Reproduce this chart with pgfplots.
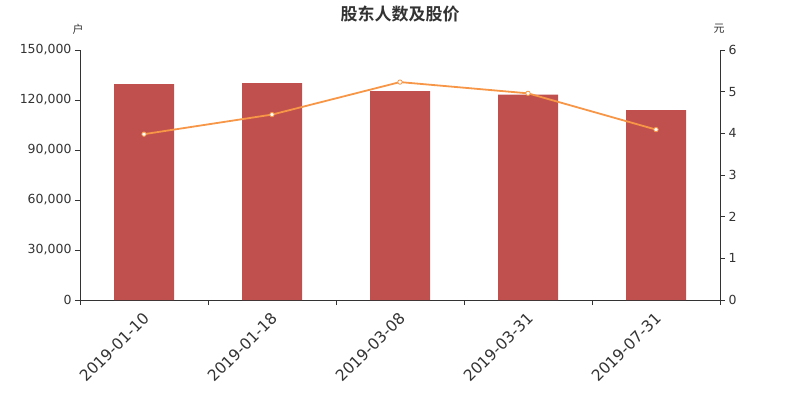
\documentclass[border=0pt]{standalone}
\usepackage{pgfplots}
\pgfplotsset{compat=1.18}
\usepackage{fontspec}
\setmainfont{DejaVu Sans}
\newfontfamily\cjk{Noto Sans CJK SC}
\newfontfamily\cjkb{Noto Sans CJK SC Bold}
\definecolor{txt}{HTML}{333333}
\definecolor{barc}{HTML}{C0504D}
\definecolor{linec}{HTML}{F79646}
\begin{document}
\begin{tikzpicture}[x=1pt,y=1pt]
\path[use as bounding box] (0,0) rectangle (800,400);
\begin{axis}[
  at={(144pt,100pt)}, anchor=origin,
  scale only axis, width=640pt, height=250pt,
  xmin=-0.5, xmax=4.5, ymin=0, ymax=150000,
  axis y line*=left, axis x line*=bottom,
  axis line style={txt, line width=0.8pt, -},
  xtick={0,1,2,3,4},
  xticklabels={2019-01-10,2019-01-18,2019-03-08,2019-03-31,2019-07-31},
  major x tick style={draw=none},
  minor xtick={-0.5,0.5,1.5,2.5,3.5,4.5},
  minor tick length=5pt,
  tick align=outside,
  major tick length=5pt,
  tick style={txt, line width=0.8pt},
  x tick label style={rotate=45, anchor=east, font=\fontsize{15.5}{15.5}\selectfont, text=txt, xshift=-2pt, yshift=-9pt},
  ytick={0,30000,60000,90000,120000,150000},
  y tick label style={font=\fontsize{12.5}{12.5}\selectfont, text=txt},
  scaled y ticks=false,
  yticklabel style={/pgf/number format/.cd, fixed, 1000 sep={,}, assume math mode=true},
]
\addplot[ybar, bar width=60pt, fill=barc, draw=none] coordinates {
(0,129600) (1,130200) (2,125400) (3,123200) (4,114000)};
\end{axis}
\begin{axis}[
  at={(144pt,100pt)}, anchor=origin,
  scale only axis, width=640pt, height=250pt,
  xmin=-0.5, xmax=4.5, ymin=0, ymax=6,
  axis y line*=right, axis x line=none,
  axis line style={txt, line width=0.8pt, -},
  tick align=outside, major tick length=5pt,
  tick style={txt, line width=0.8pt},
  ytick={0,1,2,3,4,5,6},
  y tick label style={font=\fontsize{12.5}{12.5}\selectfont, text=txt},
  yticklabel style={/pgf/number format/assume math mode=true},
]
\addplot[linec, line width=1.8pt, mark=*, mark size=2.2pt, mark options={fill=white, draw=linec, line width=0.8pt}] coordinates {
(0,3.98) (1,4.45) (2,5.23) (3,4.96) (4,4.09)};
\end{axis}
\node[text=txt, font=\cjkb\fontsize{17}{17}\selectfont] at (400,386) {股东人数及股价};
\node[text=txt, font=\cjk\fontsize{11}{11}\selectfont] at (78,371) {户};
\node[text=txt, font=\cjk\fontsize{11}{11}\selectfont] at (719,371) {元};
\end{tikzpicture}
\end{document}
